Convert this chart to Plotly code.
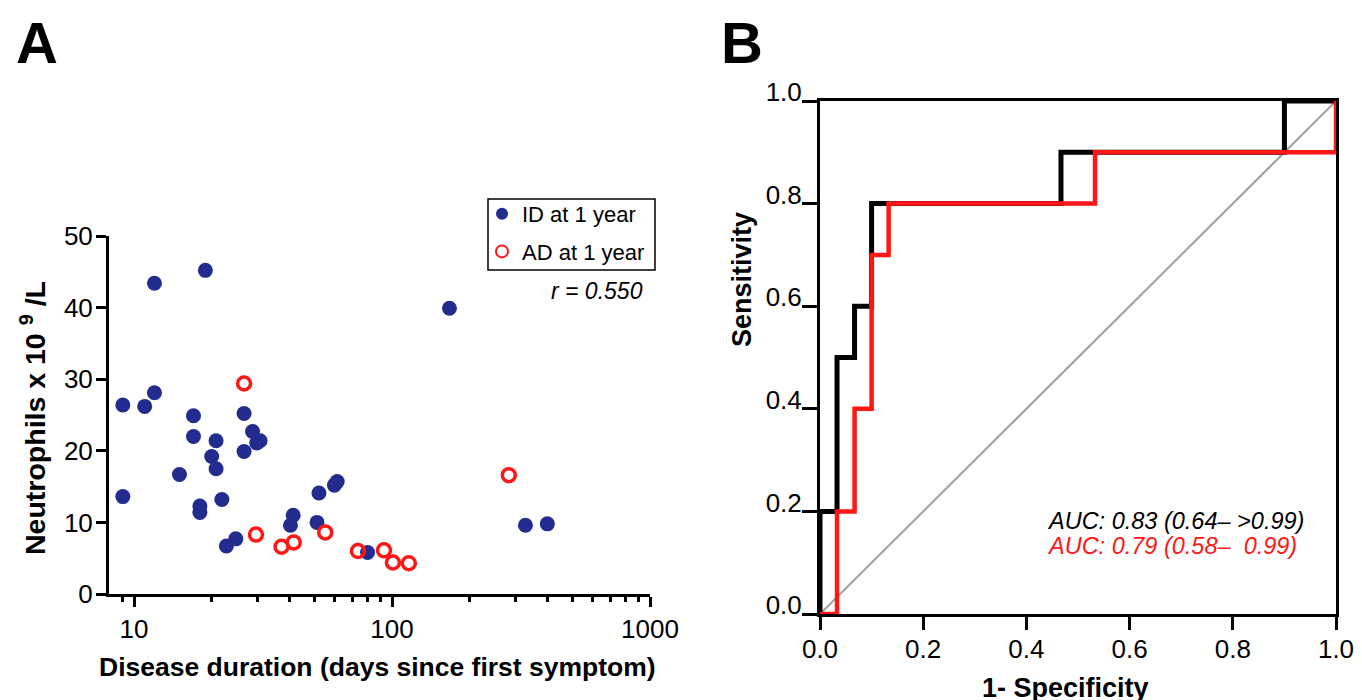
import plotly.graph_objects as go

# Panel A: neutrophils vs disease duration
id_days = [12.0, 18.9, 167, 9.05, 11.0, 12.0, 17.0, 17.0, 20.8, 26.7, 28.8, 29.9,
           30.8, 26.7, 20.0, 20.8, 15.0, 9.05, 21.9, 18.0, 18.0, 22.8, 24.8, 41.4,
           40.4, 52.1, 59.8, 61.3, 51.2, 80.4, 329, 400]
id_neut = [43.4, 45.2, 39.9, 26.4, 26.2, 28.1, 24.9, 22.0, 21.4, 25.2, 22.7, 21.1,
           21.4, 19.9, 19.2, 17.5, 16.7, 13.6, 13.2, 12.3, 11.4, 6.7, 7.7, 11.0,
           9.6, 14.1, 15.2, 15.7, 10.0, 5.8, 9.6, 9.8]
ad_days = [26.7, 29.7, 37.3, 41.6, 55.1, 73.8, 93.1, 100.8, 116.2, 283.6]
ad_neut = [29.4, 8.3, 6.6, 7.2, 8.6, 6.0, 6.1, 4.4, 4.3, 16.6]

x_major = [10, 100, 1000]
x_minor = [9, 20, 30, 40, 50, 60, 70, 80, 90, 200, 300, 400, 500, 600, 700, 800, 900]
y_ticks_a = [0, 10, 20, 30, 40, 50]

# Panel B: ROC curves
roc_black_fpr = [0, 0, 0.033, 0.067, 0.1, 0.467, 0.9, 1.0]
roc_black_tpr = [0, 0.2, 0.5, 0.6, 0.8, 0.9, 1.0, 1.0]
roc_red_fpr = [0, 0.033, 0.067, 0.1, 0.133, 0.533, 1.0]
roc_red_tpr = [0, 0.2, 0.4, 0.7, 0.8, 0.9, 1.0]
ticks_b = [0.0, 0.2, 0.4, 0.6, 0.8, 1.0]

BLUE = "#222b8e"
RED = "#ff1616"
FONT = "Arial, Liberation Sans, sans-serif"
W, H = 1362, 700
OFF = 8  # page body margin shifts the figure


def px_x(p):
    return (p - OFF) / W


def px_y(p):
    return 1 - (p - OFF) / H


fig = go.Figure()

fig.add_trace(
    go.Scatter(
        x=id_days, y=id_neut, mode="markers",
        marker=dict(size=15, color=BLUE, line=dict(width=0)),
        name="ID at 1 year", legendgroup="id",
        xaxis="x", yaxis="y"
    )
)
fig.add_trace(
    go.Scatter(
        x=ad_days, y=ad_neut, mode="markers",
        marker=dict(size=13, symbol="circle-open", color=RED, line=dict(width=3.5, color=RED)),
        name="AD at 1 year", legendgroup="ad",
        xaxis="x", yaxis="y"
    )
)

fig.add_trace(
    go.Scatter(
        x=[0, 1], y=[0, 1], mode="lines",
        line=dict(width=2.2, color="#a6a6a6"),
        showlegend=False, xaxis="x2", yaxis="y2"
    )
)
fig.add_trace(
    go.Scatter(
        x=roc_black_fpr, y=roc_black_tpr, mode="lines",
        line=dict(width=5, color="black", shape="hv"),
        showlegend=False, xaxis="x2", yaxis="y2"
    )
)
fig.add_trace(
    go.Scatter(
        x=roc_red_fpr, y=roc_red_tpr, mode="lines",
        line=dict(width=4.5, color=RED, shape="hv"),
        showlegend=False, xaxis="x2", yaxis="y2"
    )
)

axis_common = dict(
    showgrid=False, zeroline=False, showline=True, linecolor="black", linewidth=3,
    ticks="outside", tickcolor="black", tickwidth=3,
    tickfont=dict(family=FONT, size=26, color="black")
)

annotations = [
    dict(text="<b>A</b>", x=px_x(14), y=px_y(42), xanchor="left", yanchor="middle",
         font=dict(size=58)),
    dict(text="<b>B</b>", x=px_x(719), y=px_y(42), xanchor="left", yanchor="middle",
         font=dict(size=58)),
    dict(text="<b>Neutrophils x 10 <sup>9</sup> /L</b>", x=px_x(33), y=px_y(418),
         textangle=-90, xanchor="center", yanchor="middle", font=dict(size=28.5)),
    dict(text="<b>Disease duration (days since first symptom)</b>", x=px_x(377), y=px_y(667),
         xanchor="center", yanchor="middle", font=dict(size=26.5)),
    dict(text="<b>Sensitivity</b>", x=px_x(742), y=px_y(280),
         textangle=-90, xanchor="center", yanchor="middle", font=dict(size=27)),
    dict(text="<b>1- Specificity</b>", x=px_x(1065), y=px_y(688),
         xanchor="center", yanchor="middle", font=dict(size=27)),
    dict(text="<i>r = 0.550</i>", x=px_x(645), y=px_y(291),
         xanchor="right", yanchor="middle", font=dict(size=23)),
    dict(text="<i>AUC: 0.83 (0.64– >0.99)</i>", x=px_x(1045), y=px_y(521),
         xanchor="left", yanchor="middle", font=dict(size=23.5, color="black")),
    dict(text="<i>AUC: 0.79 (0.58–\u00a0 0.99)</i>", x=px_x(1045), y=px_y(546),
         xanchor="left", yanchor="middle", font=dict(size=23.5, color=RED)),
]
for a in annotations:
    a.update(xref="paper", yref="paper", showarrow=False)
    a["font"].setdefault("family", FONT)
    a["font"].setdefault("color", "black")

# legend frame
shapes = [
    dict(type="rect", xref="paper", yref="paper",
         x0=px_x(488), x1=px_x(655), y0=px_y(270), y1=px_y(199),
         line=dict(color="black", width=1.5), fillcolor="rgba(0,0,0,0)")
]

fig.update_layout(
    width=W, height=H,
    margin=dict(l=0, r=0, t=0, b=0, autoexpand=False),
    paper_bgcolor="white", plot_bgcolor="white",
    font=dict(family=FONT, color="black"),
    xaxis=dict(
        type="log", range=[0.903, 3.0], domain=[px_x(109), px_x(650)],
        tickvals=x_major, ticktext=[str(v) for v in x_major], ticklen=10,
        minor=dict(tickvals=x_minor, ticks="outside", ticklen=5, tickwidth=2.5, tickcolor="black"),
        anchor="y", **axis_common
    ),
    yaxis=dict(
        range=[0, 50], domain=[px_y(594), px_y(236)],
        tickvals=y_ticks_a, ticklen=10, ticklabelstandoff=-2, anchor="x", **axis_common
    ),
    xaxis2=dict(
        range=[0, 1], domain=[px_x(820), px_x(1336)],
        tickvals=ticks_b, tickformat=".1f", ticklen=13, mirror=True,
        ticklabelstandoff=-3, anchor="y2", **axis_common
    ),
    yaxis2=dict(
        range=[0, 1], domain=[px_y(614), px_y(101)],
        tickvals=ticks_b, tickformat=".1f", ticklen=15, mirror=True,
        ticklabelshift=-9, ticklabelstandoff=-5, anchor="x2", **axis_common
    ),
    legend=dict(
        x=px_x(482), y=px_y(193), xanchor="left", yanchor="top",
        borderwidth=0, bgcolor="rgba(0,0,0,0)",
        font=dict(family=FONT, size=22, color="black"),
        itemsizing="constant", tracegroupgap=6, traceorder="grouped"
    ),
    showlegend=True,
    shapes=shapes,
    annotations=annotations
)

fig.write_html("out.html")
